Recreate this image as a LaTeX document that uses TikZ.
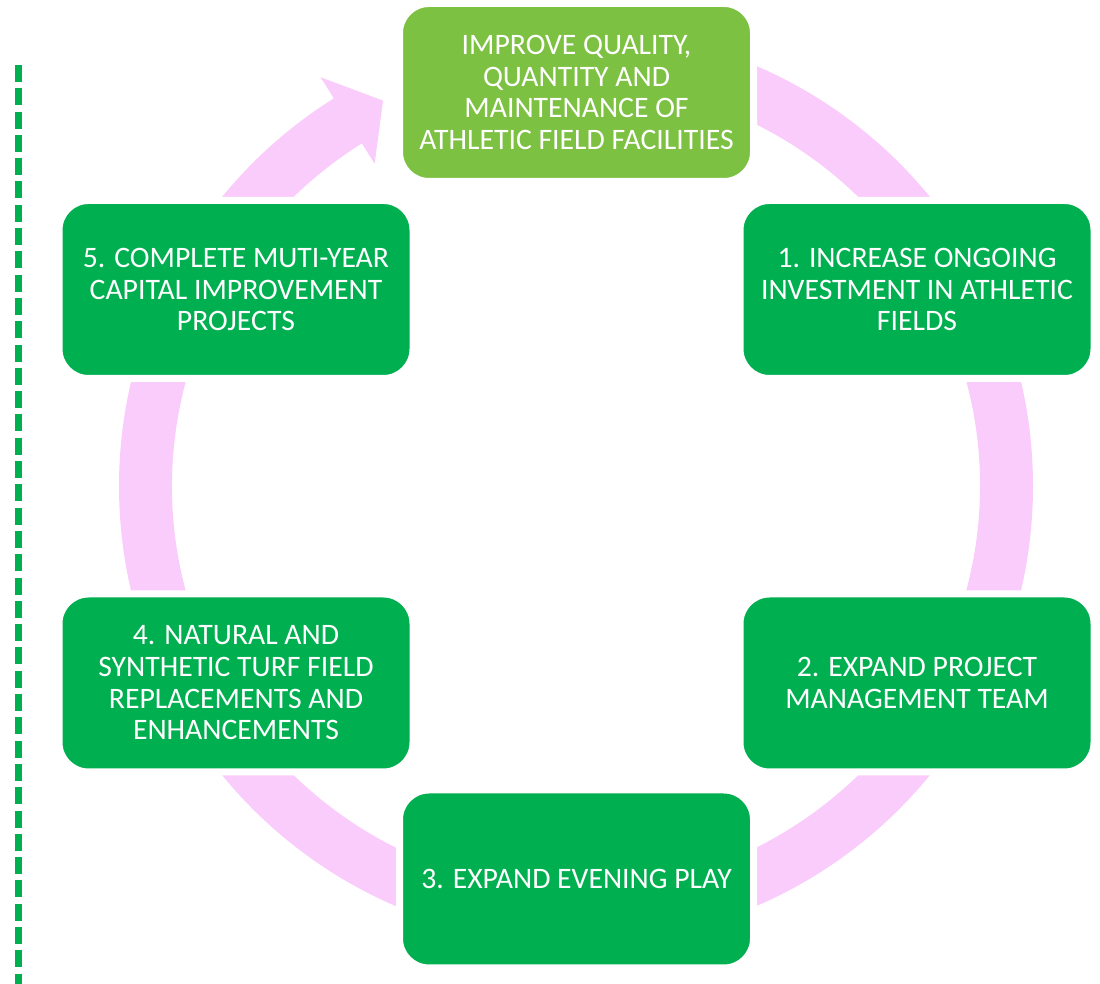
\documentclass[tikz,border=0pt]{standalone}
\usepackage{fontspec}
\setmainfont{Carlito}
\usepackage[svgnames, dvipsnames]{xcolor}
\definecolor{RingPink}{RGB}{250,204,251}
\definecolor{LeafGreen}{RGB}{125,193,67}
\definecolor{FieldGreen}{RGB}{0,176,80}
\usetikzlibrary{calc}

\begin{document}
\begin{tikzpicture}[x=1pt, y=1pt,
    stage/.style={rectangle, rounded corners=29.5pt, fill=FieldGreen, draw=white, line width=7pt, minimum width=354pt, minimum height=178pt, text=white, align=center, font=\fontsize{29.7}{31.7}\selectfont}]
    \useasboundingbox (0,0) rectangle (1100,984);
    \coordinate (O) at (576,498);
    \draw[FieldGreen, line width=6.5pt, dash pattern=on 17pt off 6.3pt] (18.3,919) -- (18.3,0);
    \fill[RingPink, shift={(O)}] (90:457) arc[start angle=90, end angle=-238, radius=457] -- (-238:482) -- (-243.4:431) -- (-238:380) -- (-238:404) arc[start angle=-238, end angle=90, radius=404] -- cycle;
    \node[stage, fill=LeafGreen] (goal) at (576.5,891.5) {IMPROVE QUALITY,\\QUANTITY AND\\MAINTENANCE OF\\ATHLETIC FIELD FACILITIES};
    \node[stage] (invest) at (917,694.5) {1. INCREASE ONGOING\\INVESTMENT IN ATHLETIC\\FIELDS};
    \node[stage] (team) at (917,301) {2. EXPAND PROJECT\\MANAGEMENT TEAM};
    \node[stage] (evening) at (576.5,105) {3. EXPAND EVENING PLAY};
    \node[stage] (turf) at (236,301) {4. NATURAL AND\\SYNTHETIC TURF FIELD\\REPLACEMENTS AND\\ENHANCEMENTS};
    \node[stage] (capital) at (236,694.5) {5. COMPLETE MUTI-YEAR\\CAPITAL IMPROVEMENT\\PROJECTS};
\end{tikzpicture}
\end{document}
